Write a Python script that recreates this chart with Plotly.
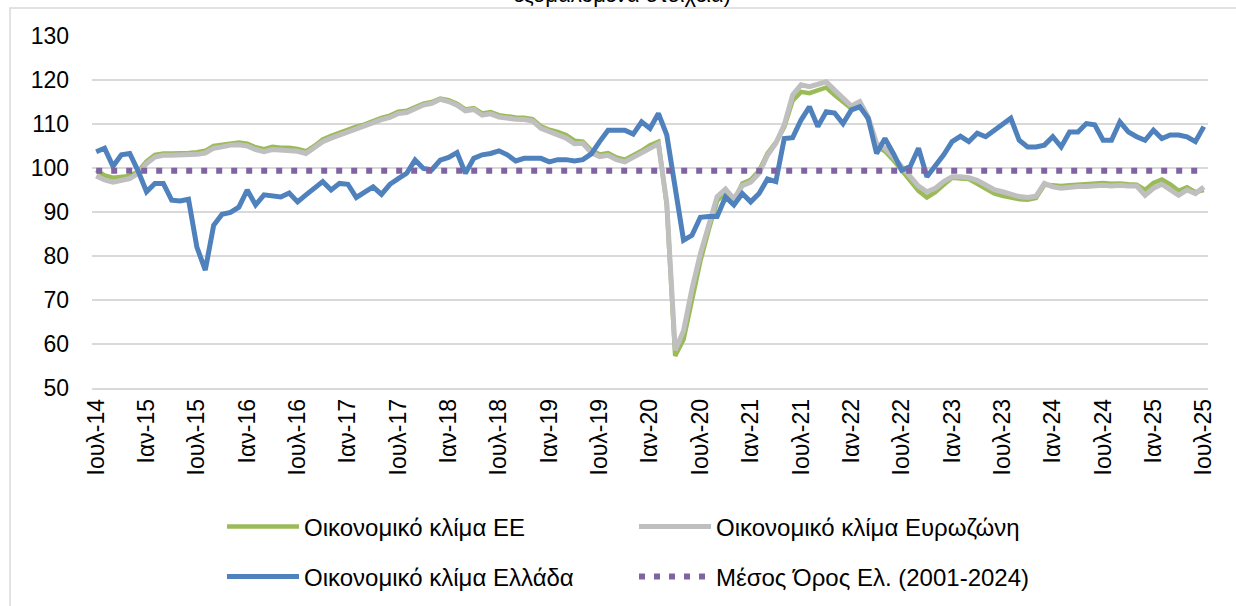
import plotly.graph_objects as go

# ---- data -------------------------------------------------------------
month_names = ['Ιαν', 'Φεβ', 'Μαρ', 'Απρ', 'Μαϊ', 'Ιουν',
               'Ιουλ', 'Αυγ', 'Σεπ', 'Οκτ', 'Νοε', 'Δεκ']
categories = []
y, m = 2014, 7
while (y, m) <= (2025, 7):
    categories.append(f"{month_names[m - 1]}-{str(y)[2:]}")
    m += 1
    if m > 12:
        m, y = 1, y + 1

tick_labels = categories[::6]

eu_esi = [
    99.5, 98.3, 97.8, 98.0, 98.2, 99.2, 101.5, 103.0, 103.3, 103.3, 103.3, 103.4,
    103.6, 103.9, 105.0, 105.3, 105.7, 105.8, 105.5, 104.7, 104.3, 104.8, 104.6, 104.6,
    104.3, 103.8, 105.0, 106.5, 107.3, 108.0, 108.8, 109.4, 109.9, 110.7, 111.4, 111.9,
    112.8, 113.0, 113.8, 114.6, 115.0, 115.8, 115.4, 114.6, 113.3, 113.6, 112.4, 112.7,
    112.0, 111.7, 111.5, 111.4, 111.1, 109.5, 108.7, 108.2, 107.5, 106.2, 106.0, 104.0,
    103.1, 103.4, 102.4, 101.9, 102.9, 103.9, 105.2, 106.0, 91.5, 57.3, 61.0, 70.5,
    78.8, 86.0, 92.5, 94.6, 92.5, 96.5, 97.3, 99.4, 103.3, 105.8, 109.3, 115.3,
    117.3, 117.0, 117.7, 118.3, 116.6, 115.0, 113.5, 114.6, 111.0, 105.0, 103.8, 101.8,
    99.4, 97.4, 94.8, 93.3, 94.5, 96.2, 97.8, 97.6, 97.5, 96.4, 95.2, 94.2,
    93.7, 93.2, 92.9, 92.8, 93.2, 96.2, 96.1, 95.9, 96.1, 96.2, 96.3, 96.4,
    96.6, 96.4, 96.5, 96.3, 96.2, 95.0, 96.6, 97.4, 96.3, 94.8, 95.6, 94.5,
    95.0,
]

ez_esi = [
    98.2, 97.3, 96.8, 97.2, 97.6, 98.8, 101.0, 102.5, 102.9, 102.9, 102.9, 103.0,
    103.1, 103.4, 104.5, 104.8, 105.2, 105.3, 105.0, 104.2, 103.7, 104.2, 104.1, 104.1,
    103.8, 103.3, 104.5, 106.0, 106.8, 107.5, 108.4, 109.0, 109.5, 110.3, 111.0, 111.5,
    112.4, 112.6, 113.5, 114.3, 114.7, 115.6, 115.1, 114.3, 113.0, 113.3, 112.0, 112.3,
    111.6, 111.3, 111.1, 111.0, 110.7, 109.0, 108.2, 107.7, 106.8, 105.5, 105.6, 103.5,
    102.6, 102.9, 101.9, 101.4, 102.4, 103.3, 104.6, 105.5, 92.0, 58.6, 63.0, 72.5,
    80.5, 87.5, 93.5, 95.2, 93.0, 96.0, 96.8, 98.8, 102.9, 105.6, 109.8, 116.6,
    118.9, 118.5, 119.1, 119.6, 117.7, 115.8, 114.1, 115.1, 111.6, 105.6, 104.5, 102.5,
    100.3, 98.4, 95.9, 94.6, 95.4, 96.9, 98.0, 98.0, 97.8, 97.2, 96.1, 95.1,
    94.6, 94.0, 93.5, 93.3, 93.6, 96.5, 95.7, 95.4, 95.7, 95.8, 95.8, 95.9,
    96.1, 95.9, 96.1, 95.9, 95.9, 93.8, 95.4, 96.3, 95.0, 93.8, 95.0, 94.2,
    95.7,
]

gr_esi = [
    103.7, 104.5, 100.4, 103.0, 103.3, 99.3, 94.6, 96.5, 96.5, 92.7, 92.5, 92.9,
    82.0, 76.8, 87.0, 89.5, 89.9, 91.1, 95.0, 91.6, 93.9, 93.7, 93.4, 94.3,
    92.3, 93.9, 95.3, 96.9, 95.0, 96.5, 96.3, 93.3, 94.5, 95.7, 94.0, 96.3,
    97.6, 98.8, 101.8, 99.9, 99.6, 101.8, 102.4, 103.5, 98.8, 102.2, 103.0, 103.3,
    103.9, 103.0, 101.6, 102.2, 102.2, 102.2, 101.4, 101.9, 101.9, 101.6, 101.9, 103.2,
    106.0, 108.6, 108.6, 108.6, 107.7, 110.5, 109.0, 112.4, 107.5, 96.0, 83.6, 84.7,
    88.8, 89.0, 89.0, 93.4, 91.6, 94.2, 92.3, 94.2, 97.5, 96.9, 106.7, 106.9,
    110.9, 113.9, 109.4, 112.8, 112.5, 110.1, 113.2, 113.9, 111.3, 103.3, 106.7, 103.3,
    99.5, 100.3, 104.5, 98.0, 100.3, 103.0, 106.0, 107.2, 106.0, 107.9, 107.1, 108.6,
    110.1, 111.3, 106.3, 104.8, 104.8, 105.2, 107.1, 104.8, 108.2, 108.2, 110.1, 109.8,
    106.3, 106.3, 110.5, 108.2, 107.1, 106.3, 108.6, 106.7, 107.5, 107.5, 107.1, 106.0,
    109.4,
]

gr_long_term_mean = 99.4

names = ['Οικονομικό κλίμα ΕΕ', 'Οικονομικό κλίμα Ευρωζώνη',
         'Οικονομικό κλίμα Ελλάδα', 'Μέσος Όρος Ελ. (2001-2024)']
title_fragment = 'εξομαλυμένα στοιχεία)'

# ---- figure -------------------------------------------------------------
FONT = 'Liberation Sans, Arial, sans-serif'
GRID = '#D9D9D9'

fig = go.Figure()
fig.add_trace(go.Scatter(x=categories, y=eu_esi, mode='lines', name=names[0],
                         line=dict(color='#9BBB59', width=4.5), legend='legend'))
fig.add_trace(go.Scatter(x=categories, y=ez_esi, mode='lines', name=names[1],
                         line=dict(color='#BFBFBF', width=5), legend='legend'))
fig.add_trace(go.Scatter(x=categories, y=gr_esi, mode='lines', name=names[2],
                         line=dict(color='#4F81BD', width=5), legend='legend2'))
fig.add_trace(go.Scatter(x=categories, y=[gr_long_term_mean] * len(categories),
                         mode='lines', name=names[3],
                         line=dict(color='#8064A2', width=6, dash='6px,9px'),
                         legend='legend2'))

W, H = 1236, 606
ML, MR, MT, MB = 92, 28, 36, 218
PW, PH = W - ML - MR, H - MT - MB


def px_x(p):
    return (p - ML) / PW


def px_y(p):
    return 1 - (p - MT) / PH


legend_common = dict(
    orientation='h', xanchor='left', yanchor='middle',
    font=dict(family=FONT, size=24, color='#000000'),
    itemwidth=72, entrywidth=325, entrywidthmode='pixels',
    bgcolor='rgba(0,0,0,0)', itemclick=False, itemdoubleclick=False,
)

fig.update_layout(
    width=W, height=H,
    margin=dict(l=ML, r=MR, t=MT, b=MB, autoexpand=False),
    paper_bgcolor='white', plot_bgcolor='white',
    font=dict(family=FONT, size=23, color='#000000'),
    showlegend=True,
    legend=dict(x=px_x(222), y=px_y(527), **legend_common),
    legend2=dict(x=px_x(222), y=px_y(577), **legend_common),
    xaxis=dict(
        type='category', categoryorder='array', categoryarray=categories,
        tickmode='array', tickvals=tick_labels, ticktext=tick_labels,
        tickangle=-90, showgrid=False, zeroline=False,
        showline=True, linecolor=GRID, linewidth=1.5,
        ticks='', tickfont=dict(family=FONT, size=23, color='#000000'),
        range=[-0.5, len(categories) - 0.5],
    ),
    yaxis=dict(
        range=[50, 130], tickmode='linear', tick0=50, dtick=10,
        showgrid=True, gridcolor=GRID, gridwidth=1.5,
        zeroline=False, showline=False, ticks='',
        ticklabelstandoff=22,
        tickfont=dict(family=FONT, size=23, color='#000000'),
    ),
    shapes=[dict(type='rect', xref='paper', yref='paper',
                 x0=px_x(10), x1=px_x(1250), y0=px_y(630), y1=px_y(8),
                 line=dict(color=GRID, width=1.5), fillcolor='rgba(0,0,0,0)',
                 layer='below')],
    annotations=[dict(text=title_fragment, xref='paper', yref='paper',
                      x=px_x(622), y=px_y(9), xanchor='center', yanchor='bottom',
                      showarrow=False,
                      font=dict(family=FONT, size=22, color='#000000'))],
)

fig.write_html('out.html',
               config={'displayModeBar': False},
               post_script="document.body.style.margin='0';"
                           "document.body.style.overflow='hidden';")
